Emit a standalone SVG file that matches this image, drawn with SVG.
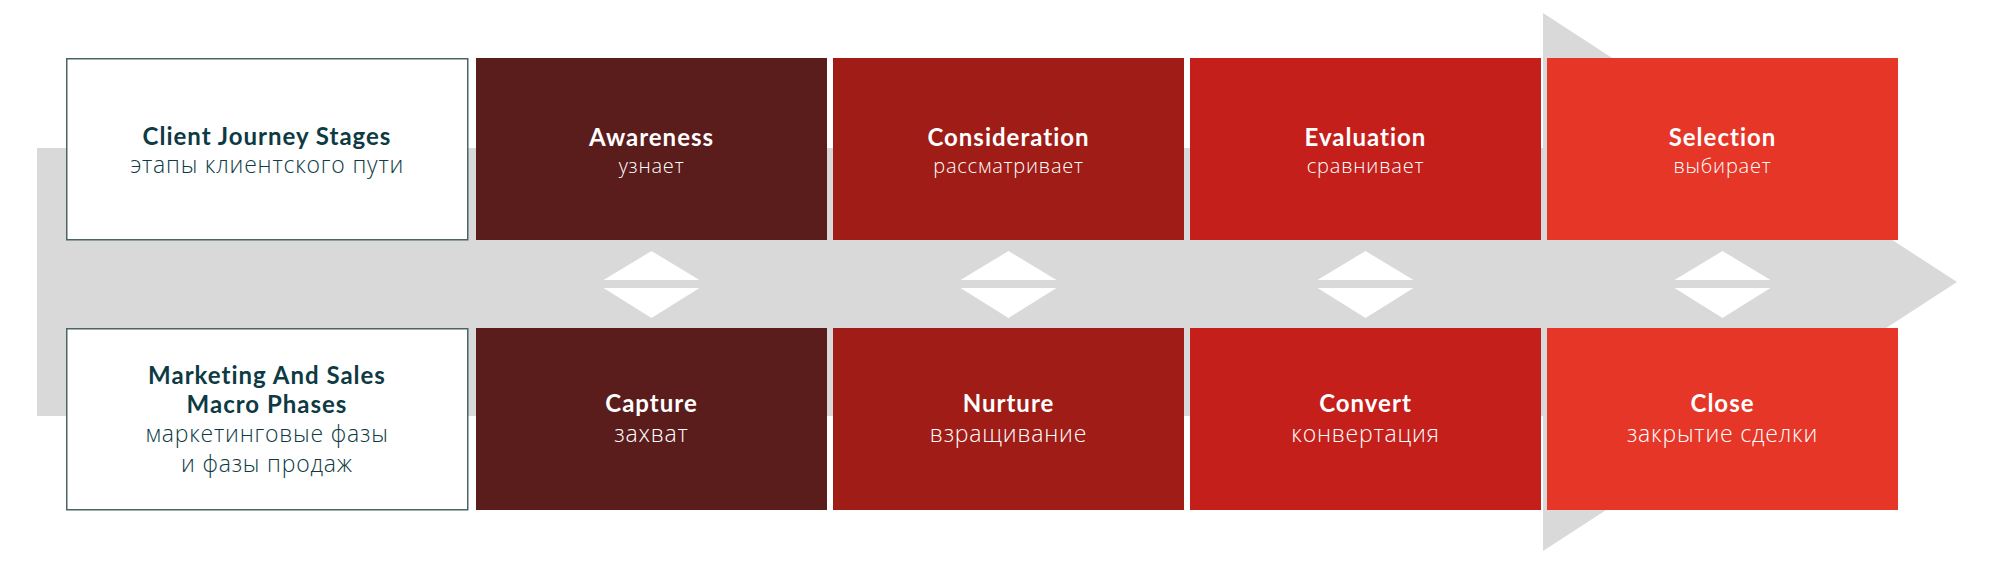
<svg xmlns="http://www.w3.org/2000/svg" width="2000" height="562" viewBox="0 0 2000 562">
<style>
.bg{fill:#ffffff}
.band{fill:#d9d9d9}
.lbox{fill:#ffffff;stroke:#4b6464;stroke-width:1.5}
.c1{fill:#5b1c1c}
.c2{fill:#a01c16}
.c3{fill:#c51f1c}
.c4{fill:#e53628}
.h{font-family:Lato,"Open Sans",sans-serif;font-weight:700;font-size:24px;letter-spacing:1px;text-anchor:middle}
.r{font-family:"Open Sans","Noto Sans",sans-serif;font-weight:300;letter-spacing:0.8px;text-anchor:middle}
.dark{fill:#0e3a44}
.light{fill:#ffffff}
.rs{font-size:20px}
.rl{font-size:23px}
.tri{fill:#ffffff}
</style>
<rect class="bg" x="0" y="0" width="2000" height="562"/>
<polygon id="journey-arrow" class="band" points="37,148 1543,148 1543,13 1957,282 1543,551 1543,416 37,416"/>

<g id="label-stages">
<rect class="lbox" x="66.75" y="58.75" width="401" height="181"/>
<text class="h dark" x="267" y="145">Client Journey Stages</text>
<text class="r rl dark" x="267" y="173">этапы клиентского пути</text>
</g>
<g id="label-phases">
<rect class="lbox" x="66.75" y="328.75" width="401" height="181"/>
<text class="h dark" x="267" y="384">Marketing And Sales</text>
<text class="h dark" x="267" y="413">Macro Phases</text>
<text class="r rl dark" x="267" y="442">маркетинговые фазы</text>
<text class="r rl dark" x="267" y="472">и фазы продаж</text>
</g>

<g id="stage-awareness">
<rect class="c1" x="476" y="58" width="351" height="182"/>
<text class="h light" x="651.5" y="146">Awareness</text>
<text class="r rs light" x="651.5" y="173">узнает</text>
</g>
<g id="stage-consideration">
<rect class="c2" x="833" y="58" width="351" height="182"/>
<text class="h light" x="1008.5" y="146">Consideration</text>
<text class="r rs light" x="1008.5" y="173">рассматривает</text>
</g>
<g id="stage-evaluation">
<rect class="c3" x="1190" y="58" width="351" height="182"/>
<text class="h light" x="1365.5" y="146">Evaluation</text>
<text class="r rs light" x="1365.5" y="173">сравнивает</text>
</g>
<g id="stage-selection">
<rect class="c4" x="1547" y="58" width="351" height="182"/>
<text class="h light" x="1722.5" y="146">Selection</text>
<text class="r rs light" x="1722.5" y="173">выбирает</text>
</g>

<g id="phase-capture">
<rect class="c1" x="476" y="328" width="351" height="182"/>
<text class="h light" x="651.5" y="412">Capture</text>
<text class="r rl light" x="651.5" y="442">захват</text>
</g>
<g id="phase-nurture">
<rect class="c2" x="833" y="328" width="351" height="182"/>
<text class="h light" x="1008.5" y="412">Nurture</text>
<text class="r rl light" x="1008.5" y="442">взращивание</text>
</g>
<g id="phase-convert">
<rect class="c3" x="1190" y="328" width="351" height="182"/>
<text class="h light" x="1365.5" y="412">Convert</text>
<text class="r rl light" x="1365.5" y="442">конвертация</text>
</g>
<g id="phase-close">
<rect class="c4" x="1547" y="328" width="351" height="182"/>
<text class="h light" x="1722.5" y="412">Close</text>
<text class="r rl light" x="1722.5" y="442">закрытие сделки</text>
</g>

<g id="connectors">
<polygon class="tri" points="603.5,280 699.5,280 651.5,251"/>
<polygon class="tri" points="603.5,288 699.5,288 651.5,318"/>
<polygon class="tri" points="960.5,280 1056.5,280 1008.5,251"/>
<polygon class="tri" points="960.5,288 1056.5,288 1008.5,318"/>
<polygon class="tri" points="1317.5,280 1413.5,280 1365.5,251"/>
<polygon class="tri" points="1317.5,288 1413.5,288 1365.5,318"/>
<polygon class="tri" points="1674.5,280 1770.5,280 1722.5,251"/>
<polygon class="tri" points="1674.5,288 1770.5,288 1722.5,318"/>
</g>
</svg>
